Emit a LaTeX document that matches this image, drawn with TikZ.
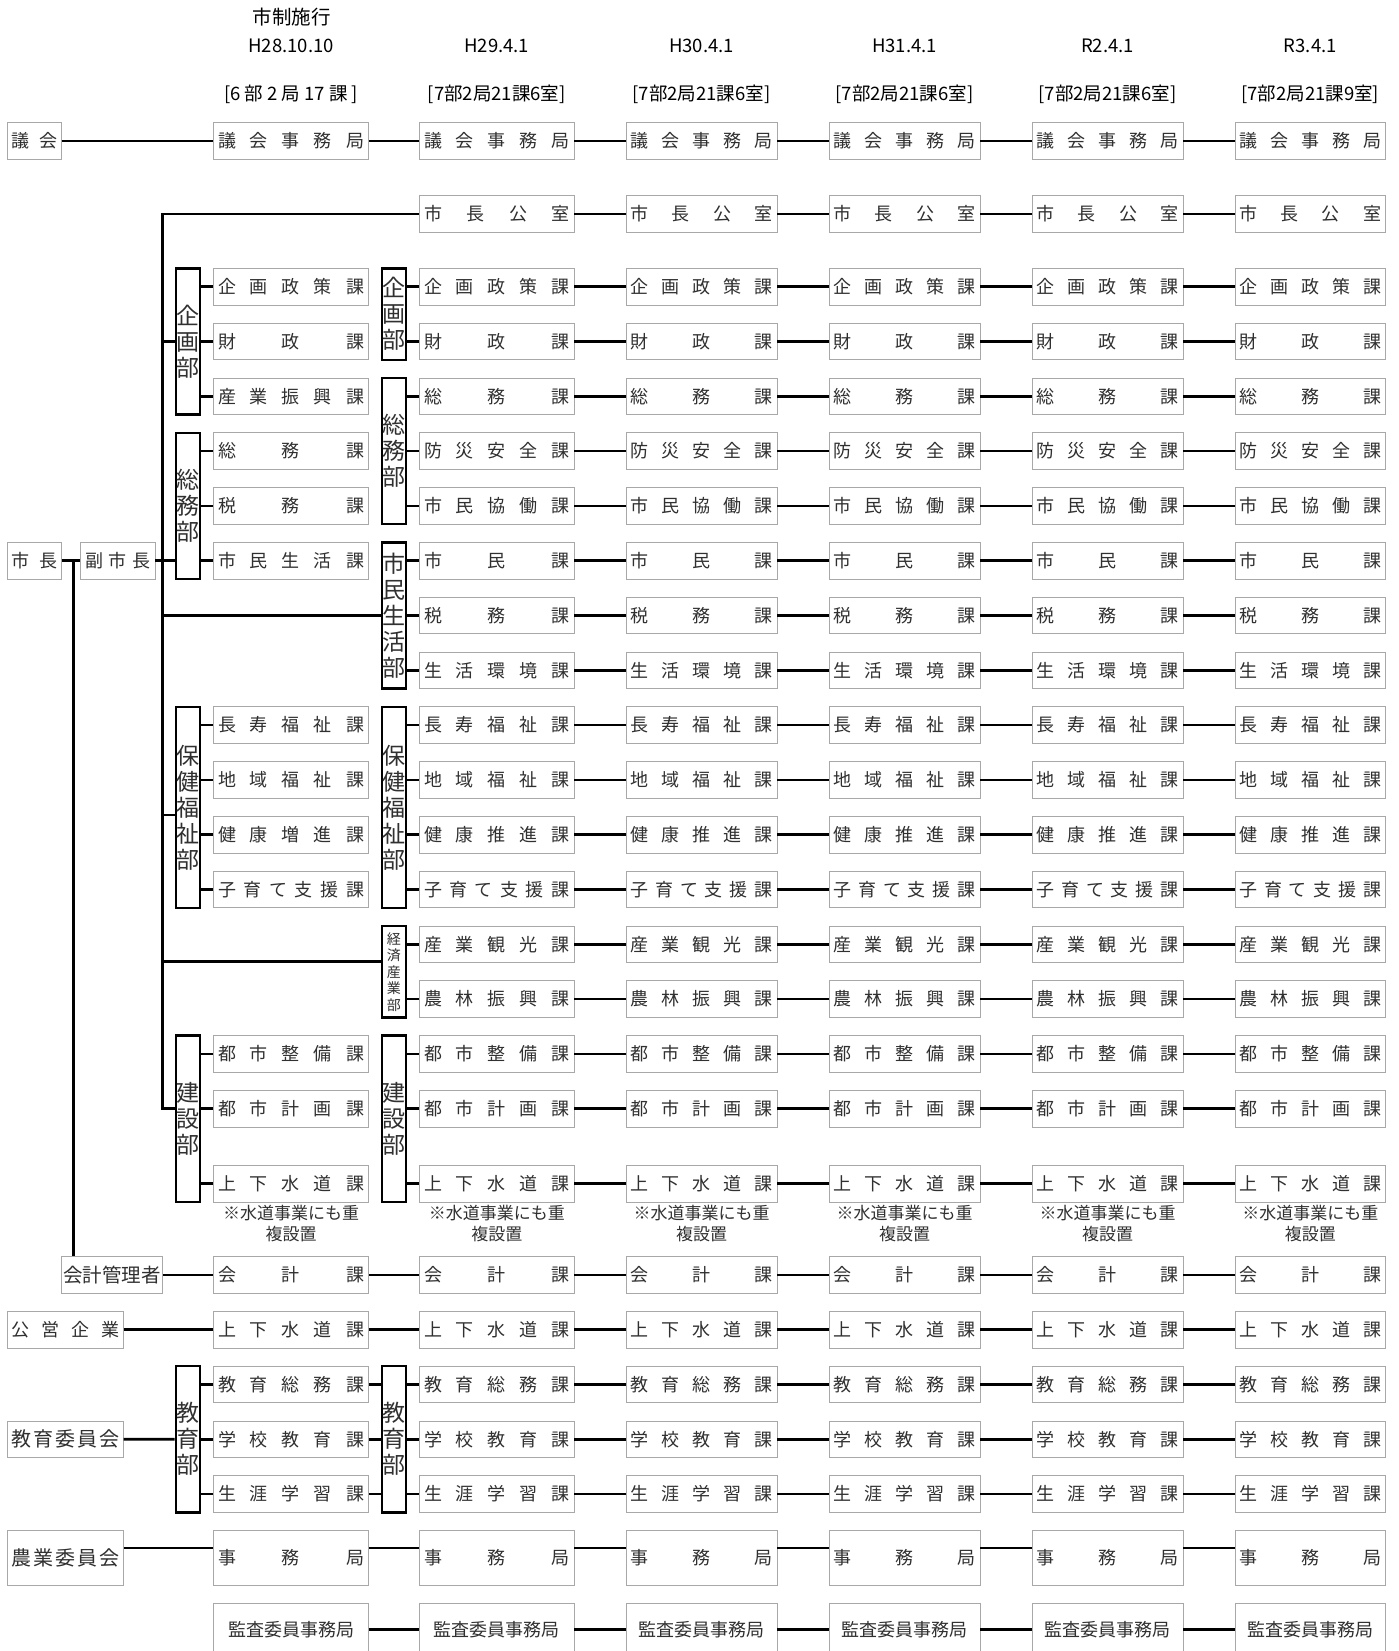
\documentclass[tikz,border=0pt]{standalone}
\usepackage{fontspec}
\setmainfont{Noto Sans CJK JP}
\usepackage{tikz}
\definecolor{boxline}{HTML}{A8A8A8}
\definecolor{ink}{HTML}{303030}
\makeatletter
\newcommand\kwarix[1]{\@tfor\kwc:=#1\do{\kwc\hfil}\unskip}
\makeatother
\newcommand\kwari[2]{\hbox to #1{\edef\kwl{#2}\expandafter\kwarix\expandafter{\kwl}}}
\tikzset{
  kbox/.style={draw=boxline,line width=.9pt,fill=white,inner sep=0pt,
    minimum height=36.5pt,text=ink,font=\fontsize{18}{20}\selectfont},
  dept/.style={draw=black,line width=2.4pt,fill=white,inner sep=0pt,
    minimum width=24pt,align=center,text=ink,font=\fontsize{23}{26}\selectfont},
  link/.style={draw=black,line width=2.7pt},
  chead/.style={font=\fontsize{18.5}{20}\selectfont,text=black},
  cnote/.style={font=\fontsize{17}{21}\selectfont,align=center,text=ink}
}

\begin{document}
\begin{tikzpicture}[x=1pt,y=-1pt]
  \useasboundingbox (0,0) rectangle (1399,1651);

  % headings
  \node[chead,font=\fontsize{19.5}{21}\selectfont] (sisei) at (291.7,16.7) {市制施行};
  \foreach \cx/\d/\n [count=\i] in {291/H28.10.10/{[6 部 2 局 17 課 ]},
      496.75/H29.4.1/{[7部2局21課6室]},701.5/H30.4.1/{[7部2局21課6室]},
      904.5/H31.4.1/{[7部2局21課6室]},1107.5/R2.4.1/{[7部2局21課6室]},
      1310.25/R3.4.1/{[7部2局21課9室]}} {
    \node[chead] (date\i) at (\cx,45.7) {\d};
    \node[chead] (size\i) at (\cx,94.3) {\n};
  }

  % sections found in every column
  \foreach \cx/\w [count=\i] in {291/155,496.75/154.5,701.5/151,904.5/151,1107.5/151,1310.25/150.5} {
    \pgfmathsetmacro\tw{\w-9}
    \foreach \k/\y/\t in {22/141/議会事務局,0/286.7/企画政策課,1/341.5/財政課,
        8/725.1/長寿福祉課,9/779.9/地域福祉課,11/889.5/子育て支援課,
        14/1053.9/都市整備課,15/1108.7/都市計画課,16/1183.7/上下水道課,
        20/1275/会計課,21/1329.7/上下水道課,17/1384.5/教育総務課,
        18/1439.3/学校教育課,19/1494/生涯学習課}
      \node[kbox,minimum width=\w pt] (c\i r\k) at (\cx,\y) {\kwari{\tw pt}{\t}};
    \node[kbox,minimum width=\w pt,minimum height=54.3pt] (jm\i) at (\cx,1557.8)
      {\kwari{\tw pt}{事務局}};
    \node[kbox,minimum width=\w pt,minimum height=52pt] (ks\i) at (\cx,1629.7) {監査委員事務局};
    \node[cnote] (note\i) at (\cx,1223.5) {※水道事業にも重\\複設置};
  }
  % first column only
  \foreach \k/\y/\t in {2/396.3/産業振興課,3/451.1/総務課,4/505.9/税務課,
      5/560.7/市民生活課,10/834.7/健康増進課}
    \node[kbox,minimum width=155pt] (c1r\k) at (291,\y) {\kwari{146pt}{\t}};
  % later columns only
  \foreach \cx/\w [count=\n] in {496.75/154.5,701.5/151,904.5/151,1107.5/151,1310.25/150.5} {
    \pgfmathtruncatemacro\i{\n+1}
    \pgfmathsetmacro\tw{\w-9}
    \foreach \k/\y/\t in {23/214/市長公室,2/396.3/総務課,3/451.1/防災安全課,
        4/505.9/市民協働課,5/560.7/市民課,6/615.5/税務課,7/670.3/生活環境課,
        10/834.7/健康推進課,12/944.3/産業観光課,13/999.1/農林振興課}
      \node[kbox,minimum width=\w pt] (c\i r\k) at (\cx,\y) {\kwari{\tw pt}{\t}};
  }

  % departments
  \node[dept,minimum height=146.2pt] (d1kik) at (187.75,341.5) {企\\画\\部};
  \node[dept,minimum height=146.2pt] (d1som) at (187.75,505.9) {総\\務\\部};
  \node[dept,minimum height=201pt] (d1hok) at (187.75,807.3) {保\\健\\福\\祉\\部};
  \node[dept,minimum height=166.4pt] (d1ken) at (187.75,1118.8) {建\\設\\部};
  \node[dept,minimum height=146.1pt] (d1kyo) at (187.75,1439.25) {教\\育\\部};
  \node[dept,minimum height=91.4pt] (d2kik) at (393.85,314.1) {企\\画\\部};
  \node[dept,minimum height=146.2pt] (d2som) at (393.85,451.1) {総\\務\\部};
  \node[dept,minimum height=146.2pt] (d2shi) at (393.85,615.5) {市\\民\\生\\活\\部};
  \node[dept,minimum height=201pt] (d2hok) at (393.85,807.3) {保\\健\\福\\祉\\部};
  \node[dept,minimum height=91.4pt,font=\fontsize{14}{16.5}\selectfont] (d2kei)
    at (393.85,971.7) {経\\済\\産\\業\\部};
  \node[dept,minimum height=166.4pt] (d2ken) at (393.85,1118.8) {建\\設\\部};
  \node[dept,minimum height=146.1pt] (d2kyo) at (393.85,1439.25) {教\\育\\部};

  % left side
  \node[kbox,minimum width=53.5pt] (gikai) at (34.5,141) {\kwari{46pt}{議会}};
  \node[kbox,minimum width=53.5pt] (mayor) at (34.5,560.7) {\kwari{46pt}{市長}};
  \node[kbox,minimum width=74.3pt] (deputy) at (117.8,560.7) {\kwari{65pt}{副市長}};
  \node[kbox,minimum width=101.4pt,font=\fontsize{19.5}{21}\selectfont] (cfo)
    at (111.9,1275) {\kwari{97pt}{会計管理者}};
  \node[kbox,minimum width=115.5pt] (kigyo) at (65.45,1329.7) {\kwari{108pt}{公営企業}};
  \node[kbox,minimum width=115.5pt,font=\fontsize{20}{22}\selectfont] (kyoi)
    at (65.45,1439.3) {\kwari{108pt}{教育委員会}};
  \node[kbox,minimum width=115.5pt,minimum height=54.3pt,font=\fontsize{20}{22}\selectfont] (nogyo)
    at (65.45,1557.8) {\kwari{108pt}{農業委員会}};

  \coordinate (trunk) at (162.7,214);
  \coordinate (ctrunk) at (73.3,560.7);

  % connectors on the left
  \draw[link] (gikai.east) -- (c1r22.west);
  \draw[link] (mayor.east) -- (deputy.west);
  \draw[link] (deputy.east) -- (d1som.west |- deputy);
  \draw[link] (ctrunk) -- (ctrunk |- cfo.north);
  \draw[link] (c2r23.west) -- (trunk) -- (trunk |- c1r15) -- (d1ken.west |- c1r15);
  \draw[link] (trunk |- c1r1) -- (d1kik.west |- c1r1);
  \draw[link] (trunk |- c2r6) -- (d2shi.west |- c2r6);
  \draw[link] ([yshift=-7.7pt]trunk |- d1hok.west) -- ([yshift=-7.7pt]d1hok.west);
  \draw[link] ([yshift=10pt]trunk |- d2kei.west) -- ([yshift=10pt]d2kei.west);
  \draw[link] (cfo.east) -- (c1r20.west);
  \draw[link] (kigyo.east) -- (c1r21.west);
  \draw[link] (kyoi.east) -- (d1kyo.west);
  \draw[link] ([yshift=9.8pt]nogyo.east) -- ([yshift=9.8pt]jm1.west);

  % departments to sections
  \foreach \k in {0,1,2} \draw[link] (d1kik.east |- c1r\k) -- (c1r\k.west);
  \foreach \k in {3,4,5} \draw[link] (d1som.east |- c1r\k) -- (c1r\k.west);
  \foreach \k in {8,9,10,11} \draw[link] (d1hok.east |- c1r\k) -- (c1r\k.west);
  \foreach \k in {14,15,16} \draw[link] (d1ken.east |- c1r\k) -- (c1r\k.west);
  \foreach \k in {17,18,19} {
    \draw[link] (d1kyo.east |- c1r\k) -- (c1r\k.west);
    \draw[link] (c1r\k.east) -- (d2kyo.west |- c1r\k);
    \draw[link] (d2kyo.east |- c2r\k) -- (c2r\k.west);
  }
  \foreach \k in {0,1} \draw[link] (d2kik.east |- c2r\k) -- (c2r\k.west);
  \foreach \k in {2,3,4} \draw[link] (d2som.east |- c2r\k) -- (c2r\k.west);
  \foreach \k in {5,6,7} \draw[link] (d2shi.east |- c2r\k) -- (c2r\k.west);
  \foreach \k in {8,9,10,11} \draw[link] (d2hok.east |- c2r\k) -- (c2r\k.west);
  \foreach \k in {12,13} \draw[link] (d2kei.east |- c2r\k) -- (c2r\k.west);
  \foreach \k in {14,15,16} \draw[link] (d2ken.east |- c2r\k) -- (c2r\k.west);

  % column to column
  \foreach \k in {20,21,22} \draw[link] (c1r\k.east) -- (c2r\k.west);
  \draw[link] ([yshift=9.8pt]jm1.east) -- ([yshift=9.8pt]jm2.west);
  \draw[link] (ks1.east) -- (ks2.west);
  \foreach \i in {2,...,5} {
    \pgfmathtruncatemacro\j{\i+1}
    \foreach \k in {0,...,23} \draw[link] (c\i r\k.east) -- (c\j r\k.west);
    \draw[link] ([yshift=9.8pt]jm\i.east) -- ([yshift=9.8pt]jm\j.west);
    \draw[link] (ks\i.east) -- (ks\j.west);
  }
\end{tikzpicture}
\end{document}
